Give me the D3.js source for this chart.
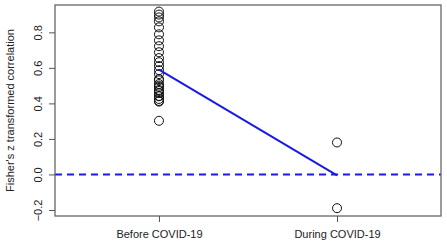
<!DOCTYPE html>
<html>
<head>
<meta charset="utf-8">
<script src="https://cdn.jsdelivr.net/npm/d3@7"></script>
<style>
  body { margin: 0; background: #fff; }
  text { font-family: "Liberation Sans", Arial, sans-serif; }
</style>
</head>
<body>
<svg id="chart" width="447" height="247"></svg>
<script>
const groups = ["Before COVID-19", "During COVID-19"];
const beforeValues = [0.917, 0.90, 0.884, 0.862, 0.828, 0.789, 0.755, 0.722, 0.688, 0.655,
    0.632, 0.61, 0.587, 0.565, 0.537, 0.53, 0.509, 0.50, 0.492, 0.476, 0.47, 0.459,
    0.442, 0.44, 0.425, 0.414, 0.41, 0.302];
const duringValues = [0.18, -0.19];
const meanValues = [0.59, -0.005];
const yTicks = [-0.2, 0.0, 0.2, 0.4, 0.6, 0.8];

const svg = d3.select("#chart");
const box = { left: 55, right: 441, top: 5, bottom: 216 };

const x = d3.scaleLinear().domain([0.416, 2.584]).range([box.left, box.right]);
const y = d3.scaleLinear().domain([-0.234, 0.954]).range([box.bottom, box.top]);

// points
const points = [];
beforeValues.forEach(v => points.push({ g: 1, v: v }));
duringValues.forEach(v => points.push({ g: 2, v: v }));

// zero reference line
svg.append("line")
    .attr("x1", box.left).attr("x2", box.right)
    .attr("y1", y(0)).attr("y2", y(0))
    .attr("stroke", "#1a1ae6")
    .attr("stroke-width", 2)
    .attr("stroke-dasharray", "7,5");

svg.selectAll("circle")
    .data(points)
    .join("circle")
    .attr("cx", d => x(d.g))
    .attr("cy", d => y(d.v))
    .attr("r", 4.5)
    .attr("fill", "none")
    .attr("stroke", "#111")
    .attr("stroke-width", 1);

// mean line
svg.append("path")
    .datum(meanValues)
    .attr("d", d3.line().x((d, i) => x(i + 1)).y(d => y(d)))
    .attr("fill", "none")
    .attr("stroke", "#1a1ae6")
    .attr("stroke-width", 2);

// box
svg.append("rect")
    .attr("x", box.left).attr("y", box.top)
    .attr("width", box.right - box.left)
    .attr("height", box.bottom - box.top)
    .attr("fill", "none")
    .attr("stroke", "#666")
    .attr("stroke-width", 1.3);

// y axis
const yAxis = svg.append("g")
    .attr("transform", `translate(${box.left},0)`)
    .call(d3.axisLeft(y).tickValues(yTicks).tickSize(6).tickFormat(d3.format(".1f")));
yAxis.select(".domain").remove();
yAxis.selectAll(".tick line").attr("stroke", "#555");
yAxis.selectAll(".tick text")
    .attr("x", 0).attr("dy", null)
    .attr("transform", "translate(-17,0) rotate(-90)")
    .attr("text-anchor", "middle")
    .attr("dominant-baseline", "central")
    .attr("fill", "#222")
    .style("font-size", "11px");

// x axis
const xAxis = svg.append("g")
    .attr("transform", `translate(0,${box.bottom})`)
    .call(d3.axisBottom(x).tickValues([1, 2]).tickSize(6).tickFormat((d, i) => groups[i]));
xAxis.select(".domain").remove();
xAxis.selectAll(".tick line").attr("stroke", "#555");
xAxis.selectAll(".tick text")
    .attr("y", 14)
    .attr("fill", "#222")
    .style("font-size", "11px");

// y label
svg.append("text")
    .attr("transform", `translate(10,${(box.top + box.bottom) / 2}) rotate(-90)`)
    .attr("text-anchor", "middle")
    .attr("dominant-baseline", "central")
    .attr("fill", "#222")
    .style("font-size", "11px")
    .text("Fisher's z transformed correlation");
</script>
</body>
</html>
